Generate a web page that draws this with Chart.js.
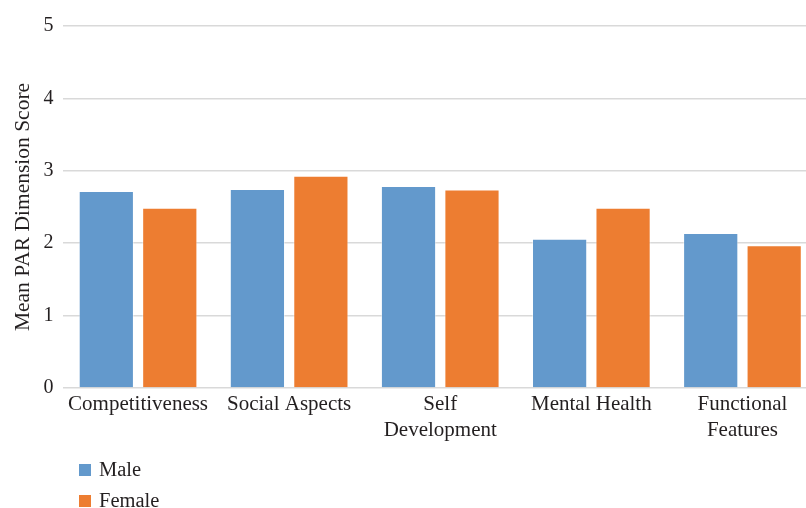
<!DOCTYPE html>
<html>
<head>
<meta charset="utf-8">
<script src="https://cdn.jsdelivr.net/npm/chart.js@4"></script>
<style>
  html, body { margin: 0; padding: 0; background: #fff; overflow: hidden; }
  #wrap { width: 818px; height: 508px; }
</style>
</head>
<body>
<div id="wrap"><canvas id="parChart"></canvas></div>
<script>
const categories = ['Competitiveness', 'Social Aspects', ['Self', 'Development'], 'Mental Health', ['Functional', 'Features']];
const maleScores = [2.72, 2.75, 2.79, 2.06, 2.14];
const femaleScores = [2.49, 2.93, 2.74, 2.49, 1.97];
const yTicks = [0, 1, 2, 3, 4, 5];

const FONT = "'Liberation Serif', 'DejaVu Serif', serif";
const TEXT = '#231f20';

// stacked legend under the axis labels, one series per row
const stackedLegend = {
  id: 'stackedLegend',
  afterDraw(chart) {
    const ctx = chart.ctx;
    const top = chart.scales.x.bottom;
    ctx.save();
    ctx.font = '20.5px ' + FONT;
    ctx.textBaseline = 'middle';
    ctx.textAlign = 'left';
    chart.data.datasets.forEach((ds, i) => {
      const cy = top + 27 + i * 31;
      ctx.fillStyle = ds.backgroundColor;
      ctx.fillRect(79, cy - 6, 12, 12);
      ctx.fillStyle = TEXT;
      ctx.fillText(ds.label, 99, cy + 1);
    });
    ctx.restore();
  }
};

new Chart(document.getElementById('parChart').getContext('2d'), {
  type: 'bar',
  data: {
    labels: categories,
    datasets: [
      {
        label: 'Male',
        data: maleScores,
        backgroundColor: '#6399cc',
        borderColor: 'rgba(255,255,255,0.45)',
        borderWidth: 1
      },
      {
        label: 'Female',
        data: femaleScores,
        backgroundColor: '#ed7d31',
        borderColor: 'rgba(255,255,255,0.45)',
        borderWidth: 1
      }
    ]
  },
  options: {
    responsive: true,
    maintainAspectRatio: false,
    animation: false,
    devicePixelRatio: 1,
    categoryPercentage: 0.84,
    barPercentage: 0.87,
    layout: { padding: { top: 26, right: 0, bottom: 65, left: 0 } },
    plugins: {
      legend: { display: false },
      tooltip: { enabled: false }
    },
    scales: {
      x: {
        grid: { display: false, drawTicks: false },
        border: { display: false },
        ticks: {
          color: TEXT,
          padding: 3,
          maxRotation: 0,
          autoSkip: false,
          font: { family: FONT, size: 21, lineHeight: 1.24 }
        },
        afterFit(scale) { scale.height = 55; }
      },
      y: {
        min: 0,
        max: 5,
        afterBuildTicks(scale) { scale.ticks = yTicks.map(v => ({ value: v })); },
        grid: { color: '#d9d9d9', lineWidth: 1.5, drawTicks: false },
        border: { display: false },
        ticks: {
          color: TEXT,
          padding: 9,
          font: { family: FONT, size: 20 }
        },
        title: {
          display: true,
          text: 'Mean PAR Dimension Score',
          color: TEXT,
          padding: { top: 10, bottom: 0 },
          font: { family: FONT, size: 21.5, lineHeight: 1.2 }
        },
        afterFit(scale) { scale.width = 62.5; }
      }
    }
  },
  plugins: [stackedLegend]
});
</script>
</body>
</html>
